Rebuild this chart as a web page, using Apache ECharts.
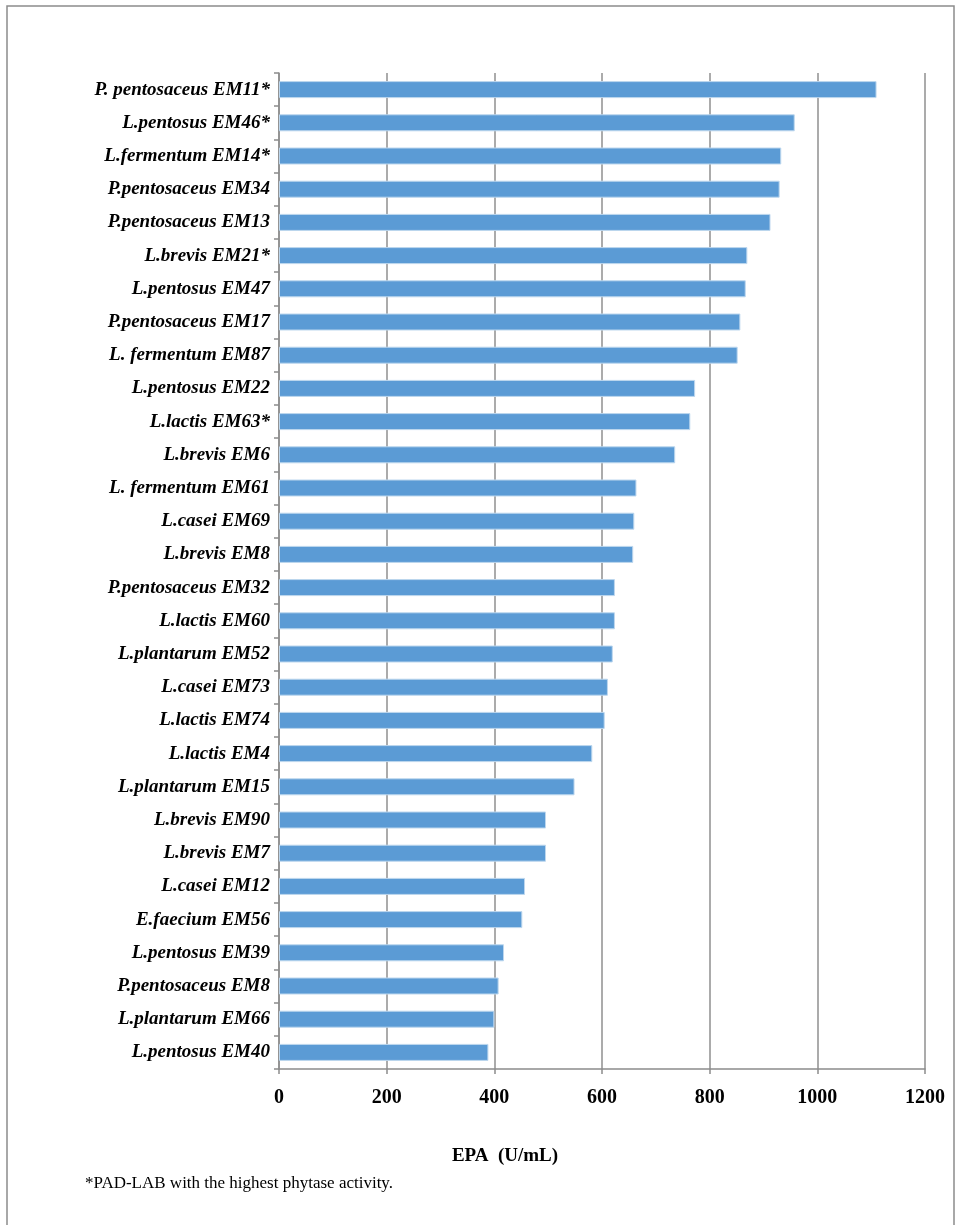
<!DOCTYPE html>
<html>
<head>
    <meta charset="UTF-8">
    <title>EPA of LAB strains</title>
    <script type="text/javascript" src="https://cdn.jsdelivr.net/npm/echarts@6/dist/echarts.min.js"></script>
    <style>
        html, body {
            margin: 0;
            padding: 0;
            background-color: #fff;
        }
    </style>
</head>
<body>
<div id="bar" style="width:956px; height:1225px;"></div>

<script>
    // strains, listed top to bottom as in the figure
    var strains = [
        'P. pentosaceus EM11*', 'L.pentosus EM46*', 'L.fermentum EM14*', 'P.pentosaceus EM34',
        'P.pentosaceus EM13', 'L.brevis EM21*', 'L.pentosus EM47', 'P.pentosaceus EM17',
        'L. fermentum EM87', 'L.pentosus EM22', 'L.lactis EM63*', 'L.brevis EM6',
        'L. fermentum EM61', 'L.casei EM69', 'L.brevis EM8', 'P.pentosaceus EM32',
        'L.lactis EM60', 'L.plantarum EM52', 'L.casei EM73', 'L.lactis EM74',
        'L.lactis EM4', 'L.plantarum EM15', 'L.brevis EM90', 'L.brevis EM7',
        'L.casei EM12', 'E.faecium EM56', 'L.pentosus EM39', 'P.pentosaceus EM8',
        'L.plantarum EM66', 'L.pentosus EM40'
    ];
    var epa = [
        1110, 958, 933, 930,
        913, 870, 867, 857,
        852, 773, 764, 736,
        664, 660, 658, 624,
        624, 620, 611, 605,
        582, 549, 496, 496,
        457, 452, 418, 408,
        400, 389
    ];
    var xTicks = [0, 200, 400, 600, 800, 1000, 1200];

    var chart = echarts.init(document.getElementById('bar'), null, {renderer: 'canvas'});

    var option = {
        animation: false,
        backgroundColor: '#fff',
        grid: {left: 279, right: 31, top: 73, bottom: 156, containLabel: false},
        xAxis: {
            type: 'value',
            min: xTicks[0],
            max: xTicks[xTicks.length - 1],
            interval: 200,
            axisLine: {show: true, lineStyle: {color: '#8c8c8c', width: 1.5}},
            axisTick: {show: true, length: 5, lineStyle: {color: '#8c8c8c', width: 1.5}},
            axisLabel: {
                color: '#000',
                fontFamily: 'Liberation Serif',
                fontWeight: 'bold',
                fontSize: 20,
                margin: 19,
                formatter: function (v) { return String(v); }
            },
            splitLine: {show: true, lineStyle: {color: '#8f8f8f', width: 1.5}}
        },
        yAxis: {
            type: 'category',
            inverse: true,
            data: strains,
            axisLine: {show: true, lineStyle: {color: '#8c8c8c', width: 1.5}},
            axisTick: {show: true, length: 5, lineStyle: {color: '#8c8c8c', width: 1.5}},
            axisLabel: {
                color: '#000',
                fontFamily: 'Liberation Serif',
                fontStyle: 'italic',
                fontWeight: 'bold',
                fontSize: 19,
                margin: 9
            }
        },
        series: [{
            type: 'bar',
            data: epa,
            barWidth: 17,
            itemStyle: {color: '#5b9bd5', borderColor: '#bdd7ee', borderWidth: 1}
        }],
        graphic: [
            {
                type: 'rect',
                shape: {x: 7, y: 6, width: 947, height: 1240},
                style: {fill: 'none', stroke: '#8c8c8c', lineWidth: 1.5},
                silent: true
            },
            {
                type: 'text',
                x: 505,
                y: 1147,
                style: {
                    text: 'EPA  (U/mL)',
                    textAlign: 'center',
                    font: 'bold 19px "Liberation Serif"',
                    fill: '#000'
                }
            },
            {
                type: 'text',
                x: 85,
                y: 1175,
                style: {
                    text: '*PAD-LAB with the highest phytase activity.',
                    font: '17px "Liberation Serif"',
                    fill: '#000'
                }
            }
        ]
    };

    chart.setOption(option);
</script>
</body>
</html>
